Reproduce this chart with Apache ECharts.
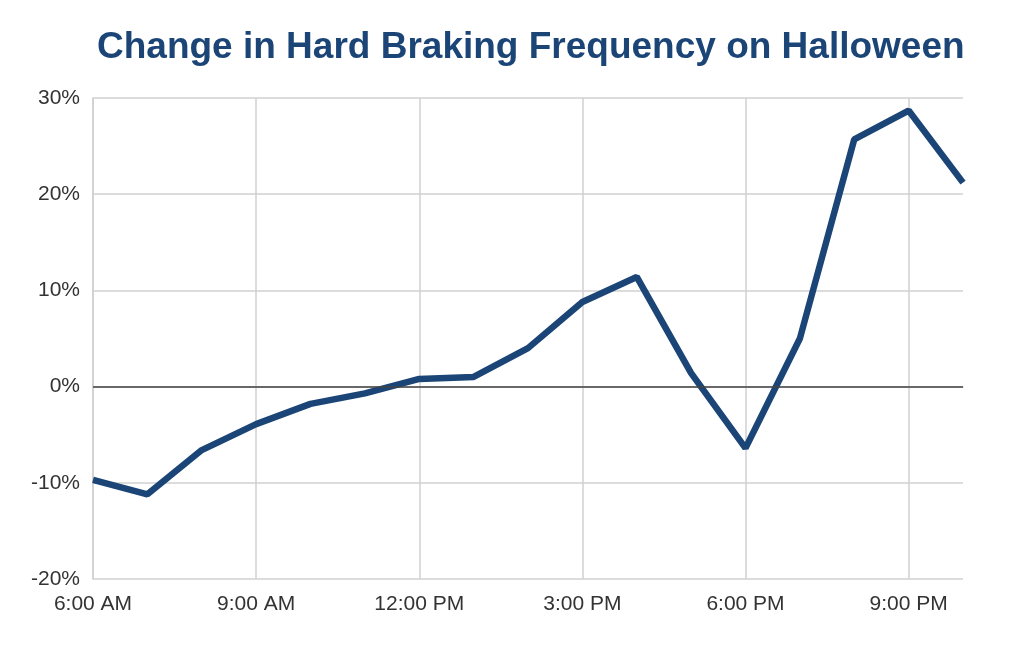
<!DOCTYPE html>
<html><head><meta charset="utf-8">
<script src="https://cdn.jsdelivr.net/npm/echarts@6/dist/echarts.min.js"></script>
<style>html,body{margin:0;padding:0;background:#fff}#c{width:1024px;height:646px}</style>
</head><body><div id="c"></div>
<script>
const title = "Change in Hard Braking Frequency on Halloween";
const hours = ["6:00 AM","7:00 AM","8:00 AM","9:00 AM","10:00 AM","11:00 AM","12:00 PM","1:00 PM","2:00 PM","3:00 PM","4:00 PM","5:00 PM","6:00 PM","7:00 PM","8:00 PM","9:00 PM","10:00 PM"];
const changePct = [-9.7, -11.2, -6.6, -3.9, -1.8, -0.7, 0.8, 1.0, 4.0, 8.8, 11.4, 1.4, -6.4, 5.0, 25.7, 28.7, 21.2];
const yMin = -20, yMax = 30, yStep = 10;

const chart = echarts.init(document.getElementById('c'), null, {renderer:'canvas'});
const font = 'Liberation Sans, Arial, Helvetica, sans-serif';
chart.setOption({
  animation: false,
  backgroundColor: '#fff',
  title: {
    text: title, left: 92, top: 24,
    textStyle: {fontFamily: font, fontSize: 37, fontWeight: 'bold', color: '#1b4577'}
  },
  grid: {left: 93, right: 61, top: 98, bottom: 67, containLabel: false},
  xAxis: {
    type: 'category', data: hours, boundaryGap: false,
    axisLine: {show: true, lineStyle: {color: '#d0d0d0', width: 1.5}},
    axisTick: {show: false},
    axisLabel: {interval: 2, color: '#333', fontFamily: font, fontSize: 21, margin: 15},
    splitLine: {show: true, interval: 2, lineStyle: {color: '#d0d0d0', width: 1.5}}
  },
  yAxis: {
    type: 'value', min: yMin, max: yMax, interval: yStep,
    axisLine: {show: true, lineStyle: {color: '#d0d0d0', width: 1.5}},
    axisTick: {show: false},
    axisLabel: {formatter: v => v + '%', color: '#333', fontFamily: font, fontSize: 21, margin: 13},
    splitLine: {show: true, lineStyle: {color: '#d0d0d0', width: 1.5}}
  },
  series: [{
    type: 'line', data: changePct, symbol: 'none',
    lineStyle: {color: '#1b4577', width: 6.5},
    markLine: {
      silent: true, symbol: 'none', label: {show: false},
      lineStyle: {color: '#444', width: 1.5, type: 'solid'},
      data: [{yAxis: 0}]
    },
    z: 3
  }]
});
</script></body></html>
